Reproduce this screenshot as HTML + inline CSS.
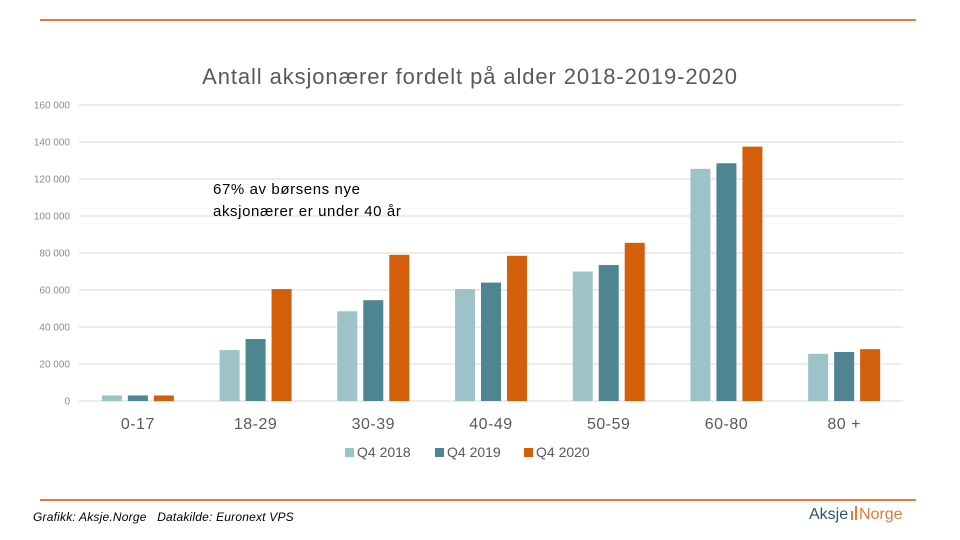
<!DOCTYPE html>
<html><head><meta charset="utf-8"><style>
body{margin:0;background:#fff;font-family:"Liberation Sans",sans-serif;}
#wrap{position:relative;width:960px;height:540px;overflow:hidden;}
</style></head><body>
<div id="wrap">
<svg id="chart" width="960" height="540"></svg>
</div>
<script>
const categories=["0-17","18-29","30-39","40-49","50-59","60-80","80 +"];
const seriesNames=["Q4 2018","Q4 2019","Q4 2020"];
const q2018=[3000,27500,48500,60500,70000,125500,25500];
const q2019=[3000,33500,54500,64000,73500,128500,26500];
const q2020=[3000,60500,79000,78500,85500,137500,28000];
const yTicks=[0,20000,40000,60000,80000,100000,120000,140000,160000];
const colors=["#9dc3c8","#4e8590","#d35f0a"];
const svg=document.getElementById('chart');
const NS="http://www.w3.org/2000/svg";
const x0=79,x1=903,y0=401,y1=105,yMax=160000;
const yScale=v=>y0-(v/yMax)*(y0-y1);
const band=(x1-x0)/categories.length;
const xCenter=i=>x0+band*(i+0.5);
function mk(tag,attrs,text){const e=document.createElementNS(NS,tag);for(const k in attrs)e.setAttribute(k,attrs[k]);if(text!==undefined)e.textContent=text;svg.appendChild(e);return e;}
let e;
e=mk('line',{x1:40,y1:20,x2:916,y2:20,stroke:'#e07b39','stroke-width':2});


e=mk('line',{x1:40,y1:500,x2:916,y2:500,stroke:'#e07b39','stroke-width':2});


e=mk('text',{x:470,y:84,'text-anchor':'middle','font-size':22,'letter-spacing':0.9,fill:'#595959'},'Antall aksjonærer fordelt på alder 2018-2019-2020');


yTicks.forEach(t=>{const y=yScale(t);
 e=mk('line',{x1:x0,y1:y,x2:x1,y2:y,stroke:'#d9d9d9','stroke-width':1});
 
 
 e=mk('text',{x:70,y:y+3.5,'text-anchor':'end','font-size':10,fill:'#8c8c8c'},t===0?'0':(t/1000)+' 000');
 
 
});
const series=[q2018,q2019,q2020];
const bw=20,step=26;
categories.forEach((c,i)=>{
 series.forEach((s,j)=>{
  const x=xCenter(i)-36+j*step;
  e=mk('rect',{x:x,y:yScale(s[i]),width:bw,height:y0-yScale(s[i]),fill:colors[j]});
  
  
 });
 e=mk('text',{x:xCenter(i),y:429,'text-anchor':'middle','font-size':16,'letter-spacing':0.5,fill:'#595959'},c);
 
 
});
const legX=[345,435,524];
seriesNames.forEach((n,j)=>{
 e=mk('rect',{x:legX[j],y:448,width:9,height:9,fill:colors[j]});
 
 
 e=mk('text',{x:legX[j]+12,y:457,'font-size':14,fill:'#595959'},n);
 
 
});
e=mk('text',{x:213,y:194,'font-size':15,'letter-spacing':0.6,fill:'#000'},'67% av børsens nye');


e=mk('text',{x:213,y:216,'font-size':15,'letter-spacing':0.6,fill:'#000'},'aksjonærer er under 40 år');


e=mk('text',{x:33,y:521,'font-size':12,'font-style':'italic','letter-spacing':0.2,fill:'#000'},'Grafikk: Aksje.Norge\u00a0\u00a0\u00a0Datakilde: Euronext VPS');


e=mk('text',{x:809,y:519,'font-size':16,fill:'#2d5563'},'Aksje');


e=mk('rect',{x:851,y:511,width:2,height:9,fill:'#e07b39'});


e=mk('rect',{x:855,y:506,width:2,height:14,fill:'#e07b39'});


e=mk('text',{x:859,y:519,'font-size':16,fill:'#e07b39'},'Norge');


</script>
</body></html>
